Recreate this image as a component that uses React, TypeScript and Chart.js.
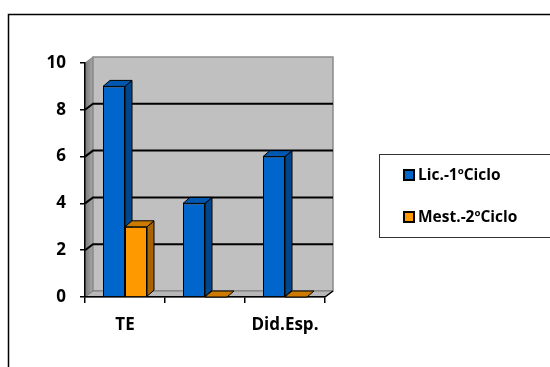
import React, { useEffect, useRef } from "react";
import { Chart, registerables } from "chart.js";

Chart.register(...registerables);

const categories = ["TE", "", "Did.Esp."];
const licValues = [9, 4, 6];
const mestValues = [3, 0, 0];
const seriesNames = ["Lic.-1ºCiclo", "Mest.-2ºCiclo"];
const yTicks = [0, 2, 4, 6, 8, 10];

const FONT = "'Open Sans', 'DejaVu Sans', sans-serif";
const DX = 8;
const DY = 6;
const BDX = 7;
const BDY = 6;

const frontColors = ["#0066cc", "#ff9900"];
const sideColors = ["#00468c", "#a86400"];
const topColors = ["#0057b0", "#cc7a00"];

function poly(ctx: CanvasRenderingContext2D, pts: number[][]) {
  ctx.beginPath();
  ctx.moveTo(pts[0][0], pts[0][1]);
  for (let i = 1; i < pts.length; i++) ctx.lineTo(pts[i][0], pts[i][1]);
  ctx.closePath();
}

function drawFaces(ctx: CanvasRenderingContext2D, chart: any, idx: number, redrawFront: boolean) {
  const meta = chart.getDatasetMeta(idx);
  meta.data.forEach((bar: any) => {
    if (redrawFront) bar.draw(ctx, chart.chartArea);
    const { x, y, base, width } = bar.getProps(["x", "y", "base", "width"], true);
    const l = x - width / 2;
    const r = x + width / 2;
    ctx.save();
    ctx.strokeStyle = "#000";
    ctx.lineWidth = 1;
    ctx.lineJoin = "round";
    if (base - y > 0.5) {
      ctx.fillStyle = sideColors[idx];
      poly(ctx, [
        [r, y],
        [r + BDX, y - BDY],
        [r + BDX, base - BDY],
        [r, base],
      ]);
      ctx.fill();
      ctx.stroke();
    }
    ctx.fillStyle = topColors[idx];
    poly(ctx, [
      [l, y],
      [l + BDX, y - BDY],
      [r + BDX, y - BDY],
      [r, y],
    ]);
    ctx.fill();
    ctx.stroke();
    ctx.restore();
  });
}

const wallsPlugin = {
  id: "walls",
  beforeDraw(chart: any) {
    const ctx: CanvasRenderingContext2D = chart.ctx;
    const { left, right, top, bottom } = chart.chartArea;
    const ys = chart.scales.y;
    ctx.save();
    ctx.strokeStyle = "#000";
    ctx.lineWidth = 1.5;
    ctx.beginPath();
    ctx.moveTo(8.5, 370);
    ctx.lineTo(8.5, 14.5);
    ctx.lineTo(560, 14.5);
    ctx.stroke();

    const g = ctx.createLinearGradient(left, 0, left + DX, 0);
    g.addColorStop(0, "#7a7a7a");
    g.addColorStop(1, "#a8a8a8");
    ctx.fillStyle = g;
    poly(ctx, [
      [left, top],
      [left + DX, top - DY],
      [left + DX, bottom - DY],
      [left, bottom],
    ]);
    ctx.fill();
    ctx.strokeStyle = "#808080";
    ctx.lineWidth = 1;
    ctx.stroke();

    ctx.fillStyle = "#c0c0c0";
    ctx.fillRect(left + DX, top - DY, right - left, bottom - top);
    ctx.strokeStyle = "#8a8a8a";
    ctx.lineWidth = 1.5;
    ctx.strokeRect(left + DX, top - DY, right - left, bottom - top);

    ctx.fillStyle = "#b8b8b8";
    poly(ctx, [
      [left, bottom],
      [left + DX, bottom - DY],
      [right + DX, bottom - DY],
      [right, bottom],
    ]);
    ctx.fill();
    ctx.strokeStyle = "#7a7a7a";
    ctx.lineWidth = 1;
    ctx.stroke();

    for (const v of yTicks) {
      if (v === 0 || v === 10) continue;
      const py = ys.getPixelForValue(v);
      ctx.strokeStyle = "#000";
      ctx.lineWidth = 2;
      ctx.beginPath();
      ctx.moveTo(left, py);
      ctx.lineTo(left + DX, py - DY);
      ctx.lineTo(right + DX, py - DY);
      ctx.stroke();
    }
    ctx.strokeStyle = "#000";
    ctx.lineWidth = 1.5;
    ctx.beginPath();
    ctx.moveTo(right, bottom);
    ctx.lineTo(right + DX, bottom - DY);
    ctx.stroke();
    ctx.restore();
  },
  afterDatasetsDraw(chart: any) {
    const ctx: CanvasRenderingContext2D = chart.ctx;
    drawFaces(ctx, chart, 0, false);
    drawFaces(ctx, chart, 1, true);
  },
  afterDraw(chart: any) {
    const ctx: CanvasRenderingContext2D = chart.ctx;
    ctx.save();
    ctx.fillStyle = "#fff";
    ctx.fillRect(379.5, 154.5, 180, 83);
    ctx.strokeStyle = "#333";
    ctx.lineWidth = 1;
    ctx.strokeRect(379.5, 154.5, 180, 83);
    const rows = [175, 217];
    ctx.font = `bold 15.5px ${FONT}`;
    ctx.textBaseline = "middle";
    ctx.textAlign = "left";
    chart.data.datasets.forEach((ds: any, i: number) => {
      const cy = rows[i];
      ctx.fillStyle = ds.backgroundColor;
      ctx.fillRect(404, cy - 5, 10, 10);
      ctx.strokeStyle = "#000";
      ctx.lineWidth = 2;
      ctx.strokeRect(404, cy - 5, 10, 10);
      ctx.fillStyle = "#000";
      ctx.fillText(ds.label, 418, cy + 1);
    });
    ctx.restore();
  },
};

export default function App() {
  const ref = useRef<HTMLCanvasElement>(null);
  useEffect(() => {
    if (!ref.current) return;
    const chart = new Chart(ref.current, {
      type: "bar",
      data: {
        labels: categories,
        datasets: [
          {
            label: seriesNames[0],
            data: licValues,
            backgroundColor: frontColors[0],
            borderColor: "#000",
            borderWidth: 1,
            categoryPercentage: 0.55,
            barPercentage: 1.0,
          },
          {
            label: seriesNames[1],
            data: mestValues,
            backgroundColor: frontColors[1],
            borderColor: "#000",
            borderWidth: 1,
            categoryPercentage: 0.55,
            barPercentage: 1.0,
          },
        ],
      },
      options: {
        responsive: false,
        animation: false,
        layout: { padding: { left: 20, top: 63, right: 225, bottom: 30 } },
        plugins: { legend: { display: false }, tooltip: { enabled: false } },
        scales: {
          x: {
            afterFit: (s: any) => {
              s.height = 40;
            },
            grid: {
              display: true,
              drawOnChartArea: false,
              drawTicks: true,
              tickLength: 6,
              color: "#000",
              lineWidth: 1.5,
              offset: true,
            },
            border: { display: true, color: "#000", width: 1.5 },
            ticks: {
              color: "#000",
              padding: 12,
              font: { family: FONT, size: 17, weight: "bold" },
              maxRotation: 0,
              autoSkip: false,
            },
          },
          y: {
            min: 0,
            max: 10,
            afterFit: (s: any) => {
              s.width = 65;
            },
            afterBuildTicks: (s: any) => {
              s.ticks = yTicks.map((v) => ({ value: v }));
            },
            grid: {
              display: true,
              drawOnChartArea: false,
              drawTicks: true,
              tickLength: 5,
              color: "#000",
              lineWidth: 1.5,
            },
            border: { display: true, color: "#000", width: 1.5 },
            ticks: {
              color: "#000",
              padding: 14,
              font: { family: FONT, size: 17, weight: "bold" },
            },
          },
        },
      },
      plugins: [wallsPlugin],
    });
    return () => chart.destroy();
  }, []);
  return (
    <canvas
      ref={ref}
      width={550}
      height={367}
      style={{ position: "fixed", left: 0, top: 0, width: 550, height: 367 }}
    />
  );
}
